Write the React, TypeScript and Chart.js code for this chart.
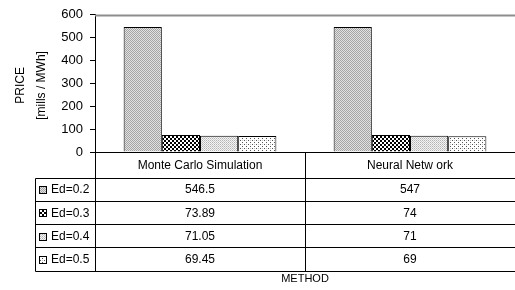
import React, { useEffect, useRef } from "react";
import { Chart, registerables } from "chart.js";

Chart.register(...registerables);

const categories = ["Monte Carlo Simulation", "Neural Netw ork"];
const seriesNames = ["Ed=0.2", "Ed=0.3", "Ed=0.4", "Ed=0.5"];
const ed02 = [546.5, 547];
const ed03 = [73.89, 74];
const ed04 = [71.05, 71];
const ed05 = [69.45, 69];
const seriesValues = [ed02, ed03, ed04, ed05];
const yMin = 0;
const yMax = 600;
const yStep = 100;
const yTitleLines = ["PRICE", "[mills / MWh]"];
const xTitle = "METHOD";

const FONT = "'Liberation Sans', Arial, sans-serif";

function makeTile(size: number, bg: string, pixels: [number, number, number, number, string][]) {
  const c = document.createElement("canvas");
  c.width = size;
  c.height = size;
  const g = c.getContext("2d")!;
  g.fillStyle = bg;
  g.fillRect(0, 0, size, size);
  for (const [px, py, w, h, col] of pixels) {
    g.fillStyle = col;
    g.fillRect(px, py, w, h);
  }
  return c;
}

export default function App() {
  const ref = useRef<HTMLCanvasElement | null>(null);

  useEffect(() => {
    const canvas = ref.current!;
    const ctx = canvas.getContext("2d")!;
    const tiles = [
      makeTile(2, "#e2e2e2", [[0, 0, 1, 1, "#a4a4a4"], [1, 1, 1, 1, "#a4a4a4"]]),
      makeTile(4, "#ffffff", [[0, 0, 2, 2, "#000000"], [2, 2, 2, 2, "#000000"]]),
      makeTile(2, "#f4f4f4", [[0, 0, 1, 1, "#b4b4b4"], [1, 1, 1, 1, "#cccccc"]]),
      makeTile(4, "#ffffff", [[0, 0, 1, 1, "#555555"], [2, 2, 1, 1, "#555555"], [2, 0, 1, 1, "#c8c8c8"]]),
    ];
    const patterns = tiles.map((t) => ctx.createPattern(t, "repeat")!);

    const tablePlugin = {
      id: "tablePlugin",
      afterDraw(chart: any) {
        const c = chart.ctx as CanvasRenderingContext2D;
        const { left, right, top, bottom } = chart.chartArea;
        const xs = chart.scales.x;
        const ys = chart.scales.y;
        c.save();
        const yTop = Math.round(ys.getPixelForValue(yMax)) + 0.5;
        c.strokeStyle = "#8e8e8e";
        c.lineWidth = 2;
        c.beginPath();
        c.moveTo(left, yTop);
        c.lineTo(right, yTop);
        c.stroke();

        const base = Math.round(bottom) + 0.5;
        const headerBottom = base + 25;
        const rowH = 23.25;
        const tableBottom = headerBottom + seriesNames.length * rowH;
        const legendLeft = 35.5;
        const axisX = Math.round(left) + 0.5;
        c.strokeStyle = "#000";
        c.lineWidth = 1;
        c.beginPath();
        c.moveTo(axisX, base);
        c.lineTo(right, base);
        for (let i = 0; i <= seriesNames.length; i++) {
          const yy = Math.round(headerBottom + i * rowH) + 0.5;
          c.moveTo(legendLeft, yy);
          c.lineTo(right, yy);
        }
        c.moveTo(axisX, base);
        c.lineTo(axisX, Math.round(tableBottom) + 0.5);
        c.moveTo(legendLeft, Math.round(headerBottom) + 0.5);
        c.lineTo(legendLeft, Math.round(tableBottom) + 0.5);
        for (let i = 1; i < categories.length; i++) {
          const xx = Math.round((xs.getPixelForValue(i - 1) + xs.getPixelForValue(i)) / 2) + 0.5;
          c.moveTo(xx, base);
          c.lineTo(xx, Math.round(tableBottom) + 0.5);
        }
        c.stroke();

        c.fillStyle = "#000";
        c.font = `12px ${FONT}`;
        c.textAlign = "center";
        c.textBaseline = "middle";
        categories.forEach((cat, i) => {
          c.fillText(cat, xs.getPixelForValue(i), (base + headerBottom) / 2 + 1);
        });
        seriesNames.forEach((name, r) => {
          const cy = headerBottom + r * rowH + rowH / 2;
          const sx = 39.5;
          const sy = Math.round(cy - 3) + 0.5;
          c.fillStyle = patterns[r];
          c.fillRect(sx, sy, 7, 7);
          c.strokeStyle = "#000";
          c.strokeRect(sx, sy, 7, 7);
          c.fillStyle = "#000";
          c.textAlign = "left";
          c.fillText(name, 51, cy + 1);
          c.textAlign = "center";
          seriesValues[r].forEach((v, i) => {
            c.fillText(String(v), xs.getPixelForValue(i), cy + 1);
          });
        });

        c.font = `11px ${FONT}`;
        c.fillText(xTitle, (left + right) / 2, 279);

        c.font = `12px ${FONT}`;
        c.translate(0, (top + bottom) / 2 + 2);
        c.rotate(-Math.PI / 2);
        c.fillText(yTitleLines[0], 0, 21);
        c.fillText(yTitleLines[1], 0, 42);
        c.restore();
      },
    };

    const chart = new Chart(canvas, {
      type: "bar",
      data: {
        labels: categories,
        datasets: seriesNames.map((name, i) => ({
          label: name,
          data: seriesValues[i],
          backgroundColor: patterns[i],
          borderColor: "#000",
          borderWidth: 1,
          categoryPercentage: 4 / 5.5,
          barPercentage: 1,
        })),
      },
      options: {
        responsive: false,
        animation: false,
        layout: { padding: { top: 13, right: 0, bottom: 138, left: 0 } },
        plugins: { legend: { display: false }, tooltip: { enabled: false } },
        scales: {
          x: { display: false },
          y: {
            min: yMin,
            max: yMax,
            ticks: {
              stepSize: yStep,
              color: "#000",
              font: { family: FONT, size: 13 },
              padding: 7,
            },
            grid: {
              display: true,
              drawOnChartArea: false,
              drawTicks: true,
              tickLength: 5,
              color: "#000",
            },
            border: { display: true, color: "#000" },
            afterFit: (scale: any) => {
              scale.width = 95;
            },
          },
        },
      },
      plugins: [tablePlugin],
    });
    return () => chart.destroy();
  }, []);

  return (
    <div style={{ position: "fixed", left: 0, top: 0, width: 515, height: 290, background: "#fff" }}>
      <canvas ref={ref} width={515} height={290} style={{ width: 515, height: 290, display: "block" }} />
    </div>
  );
}
